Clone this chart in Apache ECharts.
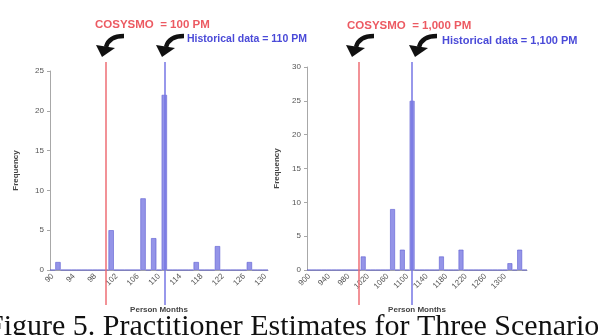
<!DOCTYPE html>
<html>
<head>
<meta charset="utf-8">
<script src="https://cdn.jsdelivr.net/npm/echarts@6/dist/echarts.min.js"></script>
<style>
  html, body { margin: 0; padding: 0; background: #fff; }
  #chart { width: 598px; height: 335px; }
</style>
</head>
<body>
<div id="chart"></div>
<script>
// left histogram: 100 PM scenario
const leftCategories = ['90','91','92','93','94','95','96','97','98','99','100','101','102','103','104','105','106','107','108','109','110',
  '111','112','113','114','115','116','117','118','119','120','121','122','123','124','125','126','127','128','129','130']
const leftCounts = [0,1,0,0,0,0,0,0,0,0,0,5,0,0,0,0,0,9,0,4,0,22,0,0,0,0,0,1,0,0,0,3,0,0,0,0,0,1,0,0,0]
const leftCosysmo = '100'
const leftHistorical = '111'

// right histogram: 1,000 PM scenario
const rightCategories = ['900','910','920','930','940','950','960','970','980','990','1000','1010','1020','1030','1040','1050','1060','1070',
  '1080','1090','1100','1110','1120','1130','1140','1150','1160','1170','1180','1190','1200','1210','1220','1230','1240','1250','1260',
  '1270','1280','1290','1300','1310','1320','1330','1340']
const rightCounts = [0,0,0,0,0,0,0,0,0,0,0,2,0,0,0,0,0,9,0,3,0,25,0,0,0,0,0,2,0,0,0,3,0,0,0,0,0,0,0,0,0,1,0,3,0]
const rightCosysmo = '1000'
const rightHistorical = '1110'

const barFill = '#9494e8'
const barEdge = '#5c5cd2'
const redLine = '#ee6e74'
const blueLine = '#7676e4'
const axisGrey = '#a8a8a8'
const labelGrey = '#555'

const chart = echarts.init(document.getElementById('chart'))

const xCat = (grid, cats, lastLabel) => ({
  type: 'category',
  gridIndex: grid,
  data: cats,
  name: 'Person Months',
  nameLocation: 'middle',
  nameGap: 36,
  nameTextStyle: { fontSize: 8, fontWeight: 'bold', color: '#444', fontFamily: 'Liberation Sans' },
  axisLine: { lineStyle: { color: axisGrey } },
  axisTick: { interval: 0, length: 3, lineStyle: { color: axisGrey } },
  axisLabel: {
    interval: (i) => i % 4 === 0 && i <= lastLabel,
    rotate: 45,
    fontSize: 8,
    margin: 5,
    color: labelGrey,
    fontFamily: 'Liberation Sans'
  },
  splitLine: { show: false }
})

const yVal = (grid, max, gap) => ({
  type: 'value',
  gridIndex: grid,
  min: 0,
  max: max,
  interval: 5,
  name: 'Frequency',
  nameLocation: 'middle',
  nameGap: gap,
  nameTextStyle: { fontSize: 8, fontWeight: 'bold', color: '#444', fontFamily: 'Liberation Sans' },
  axisLine: { show: true, lineStyle: { color: axisGrey } },
  axisTick: { show: true, length: 3, lineStyle: { color: axisGrey } },
  axisLabel: { fontSize: 8, color: labelGrey, margin: 6, fontFamily: 'Liberation Sans' },
  splitLine: { show: false }
})

const hiddenX = (grid, cats) => ({ type: 'category', gridIndex: grid, data: cats, show: false })
const hiddenY = (grid) => ({ type: 'value', gridIndex: grid, show: false })

const bars = (axis, counts) => ({
  type: 'bar',
  xAxisIndex: axis,
  yAxisIndex: axis,
  data: counts,
  barWidth: '100%',
  itemStyle: { color: barFill, borderColor: barEdge, borderWidth: 0.6 }
})

const refLines = (axis, cosysmo, historical) => ({
  type: 'line',
  xAxisIndex: axis,
  yAxisIndex: axis,
  data: [],
  z: 5,
  markLine: {
    silent: true,
    symbol: 'none',
    label: { show: false },
    data: [
      { xAxis: cosysmo, lineStyle: { color: redLine, width: 1.5, type: 'solid' } },
      { xAxis: historical, lineStyle: { color: blueLine, width: 1.5, type: 'solid' } }
    ]
  }
})

// curved black pointer arrows above the reference lines
const arrow = (dx) => ([
  {
    type: 'bezierCurve',
    shape: { x1: 124 + dx, y1: 36, x2: 106 + dx, y2: 47, cpx1: 109 + dx, cpy1: 36 },
    style: { stroke: '#111', lineWidth: 4.5, fill: null }
  },
  {
    type: 'polygon',
    shape: { points: [[96 + dx, 45], [115 + dx, 48], [102 + dx, 57]] },
    style: { fill: '#111' }
  }
])

const note = (x, y, text, color, size) => ({
  type: 'text',
  left: x,
  top: y,
  style: { text: text, fill: color, font: 'bold ' + size + 'px "Liberation Sans"' }
})

chart.setOption({
  backgroundColor: '#fff',
  animation: false,
  grid: [
    { left: 50, right: 330, top: 71, bottom: 65 },
    { left: 307, right: 71, top: 67, bottom: 65 },
    { left: 50, right: 330, top: 62, bottom: 30 },
    { left: 307, right: 71, top: 62, bottom: 30 }
  ],
  xAxis: [
    xCat(0, leftCategories, 40),
    xCat(1, rightCategories, 40),
    hiddenX(2, leftCategories),
    hiddenX(3, rightCategories)
  ],
  yAxis: [
    yVal(0, 25, 30),
    yVal(1, 30, 26),
    hiddenY(2),
    hiddenY(3)
  ],
  series: [
    bars(0, leftCounts),
    bars(1, rightCounts),
    refLines(2, leftCosysmo, leftHistorical),
    refLines(3, rightCosysmo, rightHistorical)
  ],
  graphic: [
    note(95, 19, 'COSYSMO  = 100 PM', '#ec5a62', 11.5),
    note(187, 34, 'Historical data = 110 PM', '#4a4ad8', 10.5),
    note(347, 20, 'COSYSMO  = 1,000 PM', '#ec5a62', 11.5),
    note(442, 35, 'Historical data = 1,100 PM', '#4a4ad8', 11),
    ...arrow(0),
    ...arrow(60),
    ...arrow(250),
    ...arrow(313),
    {
      type: 'text',
      left: 'center',
      top: 312,
      style: {
        text: 'Figure 5. Practitioner Estimates for Three Scenarios',
        fill: '#111',
        font: '30px "Liberation Serif"'
      }
    }
  ]
})
</script>
</body>
</html>
